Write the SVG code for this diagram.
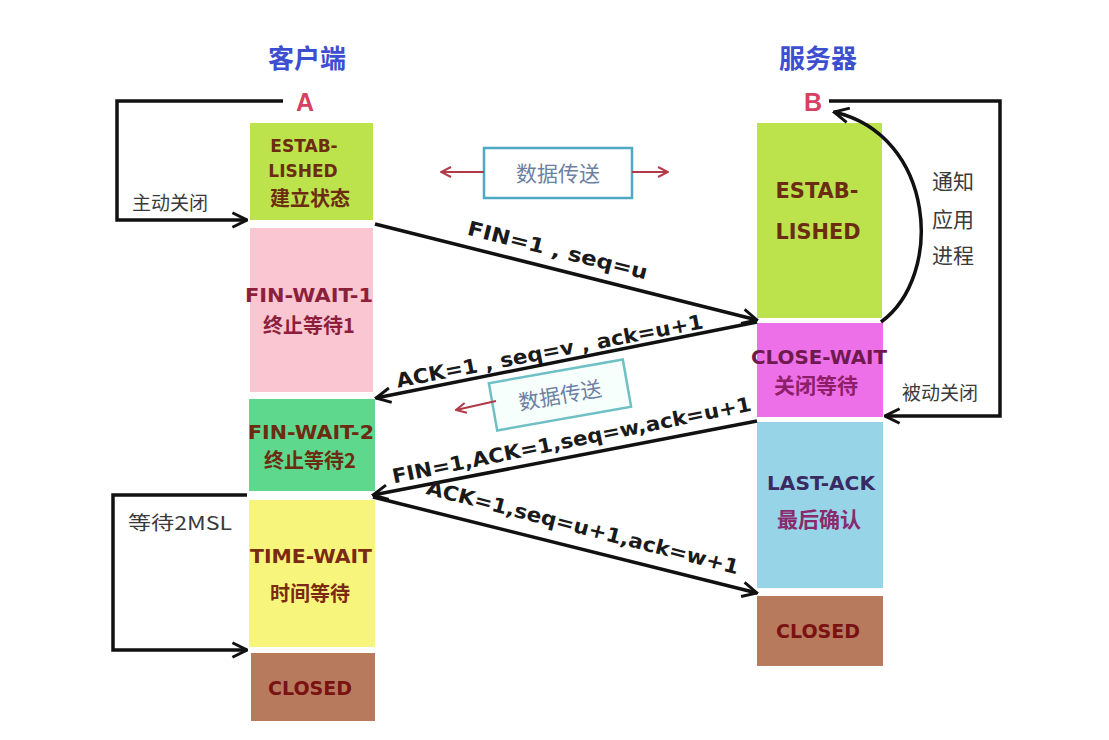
<svg xmlns="http://www.w3.org/2000/svg" width="1109" height="740" viewBox="0 0 1109 740">
<defs>
<style>
.t{font-family:"Liberation Sans","Noto Sans CJK SC",sans-serif;}
.d{font-family:"DejaVu Sans","Noto Sans CJK SC",sans-serif;}
.title{font-family:"Noto Sans CJK SC",sans-serif;font-size:26px;font-weight:bold;fill:#3d4fd0;text-anchor:middle;}
.ab{font-size:25px;font-weight:bold;fill:#d8405f;text-anchor:middle;}
.st{font-size:19px;font-weight:bold;text-anchor:middle;}
.cn{font-family:"Noto Sans CJK SC",sans-serif;font-size:20px;font-weight:bold;text-anchor:middle;}
.lbl{font-family:"Noto Sans CJK SC","Liberation Sans",sans-serif;font-size:19px;fill:#3a3a3a;}
.msg{font-size:20px;font-weight:bold;fill:#1a1a1a;text-anchor:middle;}
.data{font-family:"Noto Sans CJK SC",sans-serif;font-size:21px;fill:#6d7fa3;text-anchor:middle;}
.line{fill:none;stroke:#111;stroke-width:3.5;}
.red{fill:none;stroke:#b03a48;stroke-width:2;}
</style>
<marker id="ah" viewBox="0 0 12 12" refX="11" refY="6" markerWidth="5" markerHeight="5" orient="auto" markerUnits="strokeWidth">
<path d="M1,1 L11,6 L1,11" fill="none" stroke="#111" stroke-width="2"/>
</marker>
<marker id="rh" viewBox="0 0 12 12" refX="11" refY="6" markerWidth="6" markerHeight="6" orient="auto" markerUnits="strokeWidth">
<path d="M1,1 L11,6 L1,11" fill="none" stroke="#b03a48" stroke-width="2"/>
</marker>
</defs>
<rect width="1109" height="740" fill="#fff"/>

<g id="titles" class="t">
<text class="title" x="307" y="68">客户端</text>
<text class="title" x="818" y="68">服务器</text>
<text class="ab" x="305" y="111">A</text>
<text class="ab" x="813" y="111">B</text>
</g>

<g id="client-established" class="d">
<rect x="250" y="123" width="123" height="97" fill="#bde34c"/>
<text class="st" x="304" y="152" fill="#6b2c12" style="font-size:17px">ESTAB-</text>
<text class="st" x="303" y="177" fill="#6b2c12" style="font-size:17px">LISHED</text>
<text class="cn" x="310" y="206" fill="#6b2c12">建立状态</text>
</g>
<g id="client-fin-wait-1" class="d">
<rect x="250" y="228" width="123" height="164" fill="#f9c6d2"/>
<text class="st" x="309" y="302" fill="#8c1f3c" textLength="128" lengthAdjust="spacingAndGlyphs">FIN-WAIT-1</text>
<text class="cn" x="309" y="333" fill="#8c1f3c">终止等待1</text>
</g>
<g id="client-fin-wait-2" class="d">
<rect x="249" y="399" width="126" height="92" fill="#5ed88c"/>
<text class="st" x="311" y="439" fill="#6b2c12" textLength="126" lengthAdjust="spacingAndGlyphs">FIN-WAIT-2</text>
<text class="cn" x="310" y="468" fill="#6b2c12">终止等待2</text>
</g>
<g id="client-time-wait" class="d">
<rect x="249" y="500" width="126" height="147" fill="#f8f57c"/>
<text class="st" x="311" y="563" fill="#7a2a10" textLength="122" lengthAdjust="spacingAndGlyphs">TIME-WAIT</text>
<text class="cn" x="310" y="601" fill="#7a2a10">时间等待</text>
</g>
<g id="client-closed" class="d">
<rect x="251" y="653" width="124" height="68" fill="#b87a5c"/>
<text class="st" x="310" y="695" fill="#7a1212">CLOSED</text>
</g>

<g id="server-established" class="d">
<rect x="757" y="123" width="125" height="195" fill="#bde34c"/>
<text class="st" x="817" y="198" fill="#6b2c12" style="font-size:21px" textLength="83" lengthAdjust="spacingAndGlyphs">ESTAB-</text>
<text class="st" x="818" y="239" fill="#6b2c12" style="font-size:21px" textLength="85" lengthAdjust="spacingAndGlyphs">LISHED</text>
</g>
<g id="server-close-wait" class="d">
<rect x="757" y="323" width="126" height="94" fill="#ee70e8"/>
<text class="st" x="819" y="364" fill="#6e1a4e" textLength="136" lengthAdjust="spacingAndGlyphs">CLOSE-WAIT</text>
<text class="cn" x="816" y="393" fill="#8e1e6a" style="font-size:21px">关闭等待</text>
</g>
<g id="server-last-ack" class="d">
<rect x="757" y="422" width="126" height="166" fill="#98d4e8"/>
<text class="st" x="821" y="490" fill="#3a2a62" textLength="108" lengthAdjust="spacingAndGlyphs">LAST-ACK</text>
<text class="cn" x="819" y="527" fill="#8a2a6c" style="font-size:21px">最后确认</text>
</g>
<g id="server-closed" class="d">
<rect x="757" y="596" width="126" height="70" fill="#b87a5c"/>
<text class="st" x="818" y="638" fill="#7a1212">CLOSED</text>
</g>

<g id="data1">
<rect x="484" y="148" width="148" height="50" fill="#fff" stroke="#4fa9c2" stroke-width="2.5"/>
<text class="data" x="558" y="181">数据传送</text>
</g>
<g id="data2" transform="rotate(-10 560 395)">
<rect x="492" y="371" width="136" height="48" fill="#f6fffc" stroke="#6fc0c4" stroke-width="2.5"/>
<text class="data" x="560" y="403">数据传送</text>
</g>

<g id="connectors">
<path class="red" d="M484,172 L441,172" marker-end="url(#rh)"/>
<path class="red" d="M632,172 L668,172" marker-end="url(#rh)"/>
<path class="red" d="M496,401 L456,410" marker-end="url(#rh)"/>

<path class="line" d="M283,101 L117,101 L117,220 L247,220" marker-end="url(#ah)"/>
<path class="line" d="M829,101 L1000,101 L1000,416 L885,416" marker-end="url(#ah)"/>
<path class="line" d="M881,322 C945,275 935,135 834,112" marker-end="url(#ah)"/>
<path class="line" d="M247,495 L113,495 L113,650 L247,650" marker-end="url(#ah)"/>

<path class="line" d="M375,224 L757,320" marker-end="url(#ah)"/>
<path class="line" d="M757,322 L376,398" marker-end="url(#ah)"/>
<path class="line" d="M757,421 L373,495" marker-end="url(#ah)"/>
<path class="line" d="M373,497 L757,593" marker-end="url(#ah)"/>
</g>

<g id="labels" class="d">
<text class="lbl" x="132" y="210">主动关闭</text>
<text class="lbl" x="902" y="400">被动关闭</text>
<text class="lbl" x="128" y="530" textLength="104" lengthAdjust="spacingAndGlyphs">等待2MSL</text>
<text class="lbl" x="932" y="189" style="font-size:21px">通知</text>
<text class="lbl" x="932" y="227" style="font-size:21px">应用</text>
<text class="lbl" x="932" y="263" style="font-size:21px">进程</text>
<text class="msg" transform="translate(556,257) rotate(14)" textLength="185" lengthAdjust="spacingAndGlyphs">FIN=1 , seq=u</text>
<text class="msg" transform="translate(551,358) rotate(-11)" textLength="312" lengthAdjust="spacingAndGlyphs">ACK=1 , seq=v , ack=u+1</text>
<text class="msg" transform="translate(573,447) rotate(-11.5)" textLength="366" lengthAdjust="spacingAndGlyphs">FIN=1,ACK=1,seq=w,ack=u+1</text>
<text class="msg" transform="translate(581,534) rotate(14.5)" textLength="322" lengthAdjust="spacingAndGlyphs">ACK=1,seq=u+1,ack=w+1</text>
</g>
</svg>
